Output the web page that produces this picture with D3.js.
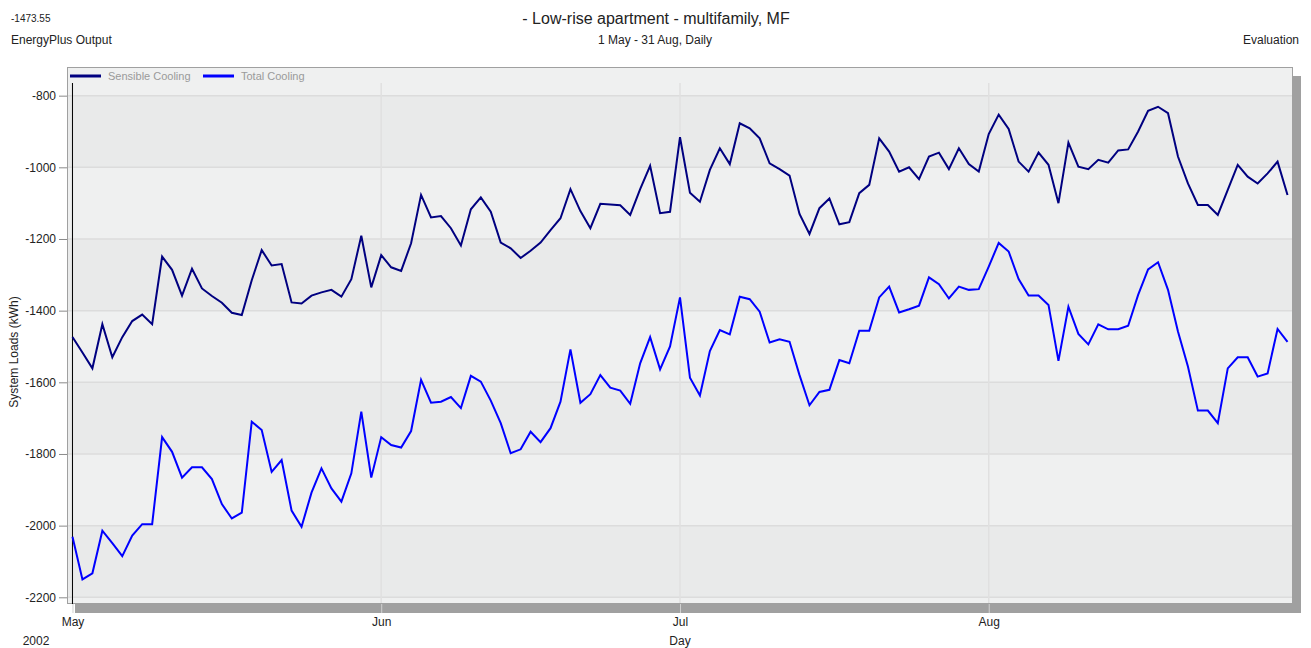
<!DOCTYPE html>
<html>
<head>
<meta charset="utf-8">
<script src="https://cdn.jsdelivr.net/npm/d3@7"></script>
<style>
  html, body { margin: 0; padding: 0; background: #ffffff; }
  svg { display: block; font-family: "Liberation Sans", Arial, sans-serif; }
</style>
</head>
<body>
<svg id="chart" width="1311" height="648"></svg>
<script>
// Daily system loads (kWh), 1 May - 31 Aug 2002
const startDate = Date.UTC(2002, 4, 1);
const sensibleCooling = [
  -1473.55, -1517, -1561, -1438, -1530, -1474, -1429, -1411, -1438, -1249,
  -1286, -1358, -1283, -1338, -1359, -1378, -1406, -1412, -1315, -1231,
  -1274, -1270, -1377, -1380, -1358, -1349, -1342, -1361, -1312, -1191,
  -1335, -1245, -1279, -1289, -1212, -1077, -1140, -1136, -1170, -1218,
  -1117, -1084, -1124, -1210, -1226, -1253, -1233, -1210, -1175, -1142,
  -1061, -1122, -1170, -1102, -1104, -1106, -1133, -1061, -996, -1128,
  -1124, -916, -1071, -1096, -1007, -947, -991, -877, -891, -919,
  -989, -1005, -1023, -1130, -1186, -1114, -1087, -1159, -1153, -1072,
  -1049, -919, -956, -1012, -1000, -1033, -970, -959, -1005, -947,
  -991, -1012, -907, -853, -893, -984, -1012, -959, -993, -1100,
  -931, -998, -1005, -979, -987, -953, -950, -900, -842, -831,
  -849, -970, -1045, -1105, -1105, -1133, -1063, -993, -1026, -1045,
  -1017, -984, -1077
];
const totalCooling = [
  -2031, -2150, -2133, -2014, -2049, -2085, -2028, -1996, -1996, -1753,
  -1794, -1866, -1837, -1837, -1870, -1940, -1980, -1964, -1710, -1733,
  -1850, -1817, -1958, -2003, -1908, -1840, -1896, -1933, -1854, -1682,
  -1866, -1753, -1775, -1782, -1736, -1593, -1657, -1654, -1641, -1672,
  -1582, -1598, -1651, -1714, -1798, -1787, -1738, -1767, -1728, -1654,
  -1508, -1657, -1633, -1580, -1615, -1623, -1660, -1547, -1474, -1564,
  -1500, -1363, -1587, -1637, -1513, -1454, -1466, -1361, -1368, -1403,
  -1489, -1480, -1487, -1580, -1664, -1627, -1621, -1538, -1547, -1456,
  -1456, -1363, -1333, -1405, -1396, -1386, -1307, -1326, -1366, -1333,
  -1342, -1340, -1277, -1211, -1235, -1312, -1358, -1358, -1384, -1540,
  -1389, -1465, -1494, -1438, -1452, -1452, -1442, -1356, -1285, -1265,
  -1342, -1458, -1556, -1679, -1679, -1714, -1561, -1530, -1530, -1584,
  -1575, -1451, -1487
];
const yTicks = [-800, -1000, -1200, -1400, -1600, -1800, -2000, -2200];
const monthTicks = [Date.UTC(2002, 4, 1), Date.UTC(2002, 5, 1), Date.UTC(2002, 6, 1), Date.UTC(2002, 7, 1)];
const monthLabels = ["May", "Jun", "Jul", "Aug"];
const seriesNames = ["Sensible Cooling", "Total Cooling"];
const seriesColors = ["#000080", "#0000ff"];

const DAY = 86400000;
const dates = sensibleCooling.map((_, i) => new Date(startDate + i * DAY));
// plain hyphen-minus for negative numbers
const fmtInt = d => String(d);
const fmt2 = d => d.toFixed(2);

const svg = d3.select("#chart");
const plot = { left: 67, right: 1293, top: 67, bottom: 604 };

const x = d3.scaleUtc()
  .domain([new Date(startDate - 0.55 * DAY), new Date(dates[dates.length - 1].getTime() + 0.55 * DAY)])
  .range([plot.left, plot.right]);
const y = d3.scaleLinear()
  .domain([-2218.7, -720])
  .range([plot.bottom, plot.top]);

// drop shadow behind the plot frame
svg.append("rect").attr("x", plot.left + 8).attr("y", plot.top + 9)
  .attr("width", plot.right - plot.left).attr("height", plot.bottom - plot.top)
  .attr("fill", "#a0a0a0");

// plot background
svg.append("rect").attr("x", plot.left).attr("y", plot.top)
  .attr("width", plot.right - plot.left).attr("height", plot.bottom - plot.top)
  .attr("fill", "#eff0f0");

// alternating horizontal bands between gridlines
const bandEdges = [-720].concat(yTicks).concat([-2218.7]);
for (let k = 0; k < bandEdges.length - 1; k++) {
  if (k % 2 === 1) {
    svg.append("rect")
      .attr("x", plot.left + 0.5)
      .attr("y", y(bandEdges[k]))
      .attr("width", plot.right - plot.left - 1)
      .attr("height", y(bandEdges[k + 1]) - y(bandEdges[k]))
      .attr("fill", "#e9eaea");
  }
}

// horizontal gridlines
svg.append("g").selectAll("line").data(yTicks).join("line")
  .attr("x1", plot.left).attr("x2", plot.right)
  .attr("y1", d => y(d)).attr("y2", d => y(d))
  .attr("stroke", "#dcdcdc").attr("stroke-width", 1.5);

// vertical month gridlines
svg.append("g").selectAll("line").data(monthTicks).join("line")
  .attr("x1", d => x(new Date(d))).attr("x2", d => x(new Date(d)))
  .attr("y1", 83).attr("y2", plot.bottom)
  .attr("stroke", "#e0e0e0").attr("stroke-width", 1.5);

// frame
svg.append("rect").attr("x", plot.left + 0.5).attr("y", plot.top + 0.5)
  .attr("width", plot.right - plot.left - 1).attr("height", plot.bottom - plot.top - 1)
  .attr("fill", "none").attr("stroke", "#a0a0a0");

// y axis
const yAxis = svg.append("g")
  .attr("transform", `translate(${plot.left},0)`)
  .call(d3.axisLeft(y).tickValues(yTicks).tickSize(8).tickPadding(3).tickFormat(fmtInt));
yAxis.select(".domain").remove();
yAxis.selectAll(".tick line").attr("stroke", "#8a8a8a");
yAxis.selectAll(".tick text").attr("fill", "#222").style("font-size", "12px")
  .style("font-family", "'Liberation Sans', Arial, sans-serif");

// x axis
const xAxis = svg.append("g")
  .attr("transform", `translate(0,${plot.bottom})`)
  .call(d3.axisBottom(x).tickValues(monthTicks.map(d => new Date(d))).tickSize(9).tickPadding(4)
    .tickFormat((d, i) => monthLabels[i]));
xAxis.select(".domain").remove();
xAxis.selectAll(".tick line").attr("stroke", "#d0d0d0");
xAxis.selectAll(".tick text").attr("fill", "#222").style("font-size", "12px")
  .style("font-family", "'Liberation Sans', Arial, sans-serif");

// marker line at the first day
svg.append("line")
  .attr("x1", x(dates[0])).attr("x2", x(dates[0]))
  .attr("y1", 83).attr("y2", plot.bottom)
  .attr("stroke", "#000").attr("stroke-width", 1);

// series lines
const line = d3.line().x((d, i) => x(dates[i])).y(d => y(d));
[sensibleCooling, totalCooling].forEach((vals, s) => {
  svg.append("path")
    .datum(vals)
    .attr("d", line)
    .attr("fill", "none")
    .attr("stroke", seriesColors[s])
    .attr("stroke-width", 2)
    .attr("stroke-linejoin", "miter");
});

// legend
const legendX = [70, 203];
seriesNames.forEach((name, s) => {
  svg.append("line")
    .attr("x1", legendX[s]).attr("x2", legendX[s] + 31)
    .attr("y1", 76).attr("y2", 76)
    .attr("stroke", seriesColors[s]).attr("stroke-width", 3);
  svg.append("text")
    .attr("x", legendX[s] + 38).attr("y", 80)
    .attr("fill", "#9a9a9a").style("font-size", "11px")
    .text(name);
});

// titles and annotations
svg.append("text").attr("x", 656).attr("y", 24).attr("text-anchor", "middle")
  .attr("fill", "#222").style("font-size", "16px")
  .text("- Low-rise apartment - multifamily, MF");
svg.append("text").attr("x", 655).attr("y", 44).attr("text-anchor", "middle")
  .attr("fill", "#222").style("font-size", "12px")
  .text("1 May - 31 Aug, Daily");
svg.append("text").attr("x", 11).attr("y", 44)
  .attr("fill", "#222").style("font-size", "12px")
  .text("EnergyPlus Output");
svg.append("text").attr("x", 11).attr("y", 22)
  .attr("fill", "#222").style("font-size", "10px")
  .text(fmt2(sensibleCooling[0]));
svg.append("text").attr("x", 1299).attr("y", 44).attr("text-anchor", "end")
  .attr("fill", "#222").style("font-size", "12px")
  .text("Evaluation");
svg.append("text").attr("x", 36).attr("y", 645).attr("text-anchor", "middle")
  .attr("fill", "#222").style("font-size", "12px")
  .text("2002");
svg.append("text").attr("x", 680).attr("y", 645).attr("text-anchor", "middle")
  .attr("fill", "#222").style("font-size", "12px")
  .text("Day");
svg.append("text")
  .attr("transform", "translate(18,352) rotate(-90)")
  .attr("text-anchor", "middle")
  .attr("fill", "#222").style("font-size", "12px")
  .text("System Loads (kWh)");
</script>
</body>
</html>
